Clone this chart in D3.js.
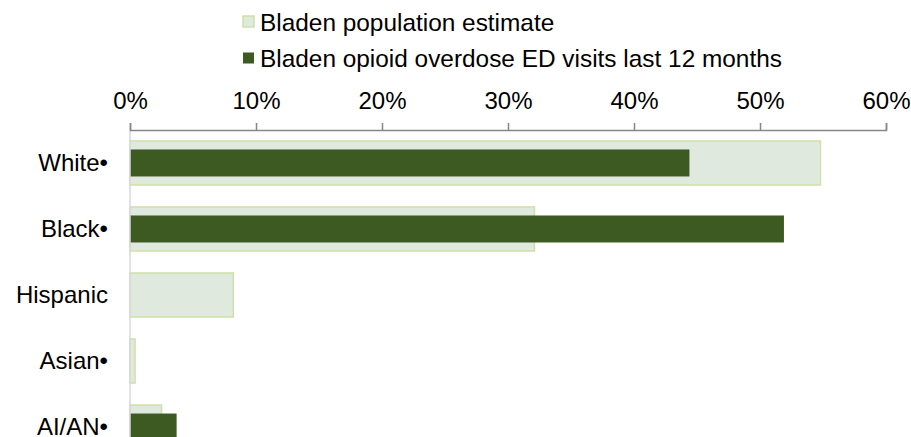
<!DOCTYPE html>
<html><head><meta charset="utf-8">
<script src="https://cdn.jsdelivr.net/npm/d3@7"></script>
<style>body{margin:0;background:#fff}svg{display:block}text{font-family:"Liberation Sans",Arial,sans-serif;fill:#000}</style>
</head><body><div id="chart"></div>
<script>
const categories = ["White•", "Black•", "Hispanic", "Asian•", "AI/AN•"];
const populationEstimate = [54.8, 32.1, 8.2, 0.4, 2.5];
const edVisits = [44.4, 51.9, 0, 0, 3.7];
const xTicks = [0, 10, 20, 30, 40, 50, 60];
const seriesNames = ["Bladen population estimate", "Bladen opioid overdose ED visits last 12 months"];

const W = 911, H = 437;
const m = {left: 130, right: 25, top: 130};
const plotH = 330;
const svg = d3.select("#chart").append("svg").attr("width", W).attr("height", H);

const x = d3.scaleLinear().domain([0, 60]).range([m.left, W - m.right]);
const y = d3.scaleBand().domain(categories).range([m.top, m.top + plotH]).paddingInner(0.333).paddingOuter(0.166);

// light bars
svg.append("g").selectAll("rect").data(categories).join("rect")
  .attr("x", x(0)).attr("y", d => y(d))
  .attr("width", (d, i) => x(populationEstimate[i]) - x(0))
  .attr("height", y.bandwidth())
  .attr("fill", "#e0e9dd").attr("stroke", "#cfe0a9").attr("stroke-width", 1.5);

// dark bars
const inner = 27;
svg.append("g").selectAll("rect").data(categories).join("rect")
  .attr("x", x(0)).attr("y", d => y(d) + (y.bandwidth() - inner) / 2)
  .attr("width", (d, i) => x(edVisits[i]) - x(0))
  .attr("height", inner)
  .attr("fill", "#3d5a23");

// y axis line
svg.append("line").attr("x1", x(0)).attr("x2", x(0)).attr("y1", m.top).attr("y2", m.top + plotH)
  .attr("stroke", "#d9d9d9").attr("stroke-width", 1.5);

// x axis on top
const xa = svg.append("g").attr("transform", `translate(0,${m.top})`)
  .call(d3.axisTop(x).tickValues(xTicks).tickFormat(d => d + "%").tickSize(7).tickPadding(14));
xa.select(".domain").attr("stroke", "#868686").attr("stroke-width", 1.5);
xa.selectAll(".tick line").attr("stroke", "#868686").attr("stroke-width", 1.5);
xa.selectAll("text").style("font-size", "24px").attr("fill", "#000").style("font-family", '"Liberation Sans",Arial,sans-serif');

// category labels
svg.append("g").selectAll("text").data(categories).join("text")
  .attr("x", 108).attr("y", d => y(d) + y.bandwidth() / 2).attr("dy", "0.35em")
  .attr("text-anchor", "end").style("font-size", "24px").text(d => d);

// legend
const lg = svg.append("g");
const legY = [22, 58.5];
seriesNames.forEach((n, i) => {
  lg.append("rect").attr("x", 243).attr("y", legY[i] - 6).attr("width", 11).attr("height", 11)
    .attr("fill", i === 0 ? "#e0e9dd" : "#3d5a23")
    .attr("stroke", i === 0 ? "#cfe0a9" : "none").attr("stroke-width", 1.5);
  lg.append("text").attr("x", 260).attr("y", legY[i]).attr("dy", "0.35em").style("font-size", "24.4px").text(n);
});
</script></body></html>
